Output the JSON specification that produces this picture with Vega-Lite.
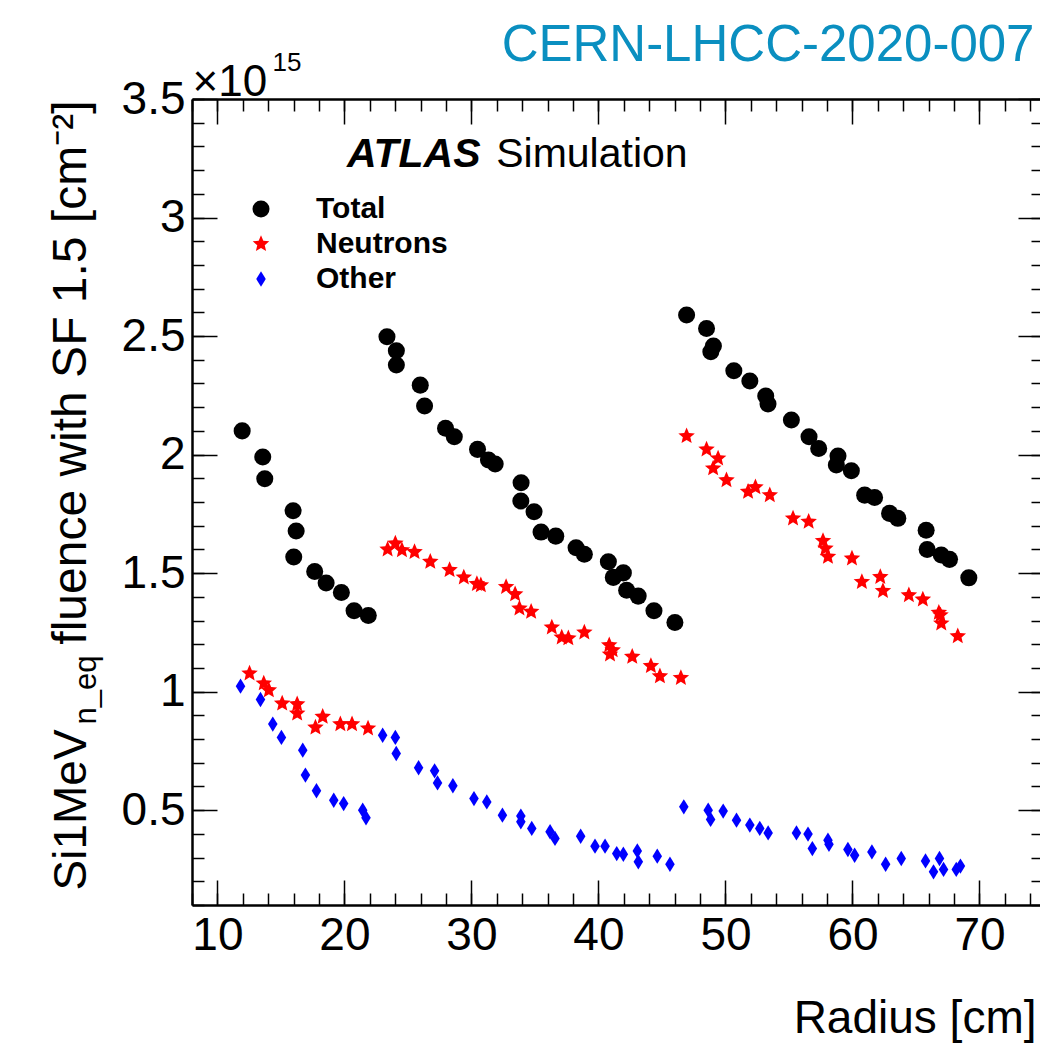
{
  "$schema": "https://vega.github.io/schema/vega-lite/v6.json",
  "width": 851,
  "height": 806,
  "autosize": {"type": "none"},
  "padding": {"left": 192, "top": 99, "right": 0, "bottom": 139},
  "background": "white",
  "config": {
    "view": {"stroke": null},
    "font": "Liberation Sans",
    "axis": {
      "grid": false,
      "domainColor": "black",
      "domainWidth": 2.5,
      "tickColor": "black",
      "tickWidth": 1.5,
      "labelFont": "Liberation Sans",
      "labelColor": "black",
      "titleFont": "Liberation Sans",
      "titleColor": "black",
      "titleFontWeight": "normal",
      "labelFlush": false,
      "labelOverlap": false
    }
  },
  "data": {
    "values": [
      {"radius": 11.95, "fluence": 2.100e15, "type": "Total"},
      {"radius": 13.57, "fluence": 1.990e15, "type": "Total"},
      {"radius": 13.73, "fluence": 1.898e15, "type": "Total"},
      {"radius": 15.96, "fluence": 1.763e15, "type": "Total"},
      {"radius": 16.20, "fluence": 1.678e15, "type": "Total"},
      {"radius": 16.01, "fluence": 1.568e15, "type": "Total"},
      {"radius": 17.66, "fluence": 1.507e15, "type": "Total"},
      {"radius": 18.56, "fluence": 1.458e15, "type": "Total"},
      {"radius": 19.76, "fluence": 1.418e15, "type": "Total"},
      {"radius": 20.76, "fluence": 1.341e15, "type": "Total"},
      {"radius": 21.88, "fluence": 1.321e15, "type": "Total"},
      {"radius": 23.35, "fluence": 2.497e15, "type": "Total"},
      {"radius": 24.09, "fluence": 2.438e15, "type": "Total"},
      {"radius": 24.09, "fluence": 2.378e15, "type": "Total"},
      {"radius": 25.97, "fluence": 2.293e15, "type": "Total"},
      {"radius": 26.31, "fluence": 2.205e15, "type": "Total"},
      {"radius": 27.96, "fluence": 2.111e15, "type": "Total"},
      {"radius": 28.65, "fluence": 2.075e15, "type": "Total"},
      {"radius": 30.48, "fluence": 2.022e15, "type": "Total"},
      {"radius": 31.34, "fluence": 1.977e15, "type": "Total"},
      {"radius": 31.87, "fluence": 1.960e15, "type": "Total"},
      {"radius": 33.91, "fluence": 1.881e15, "type": "Total"},
      {"radius": 33.89, "fluence": 1.804e15, "type": "Total"},
      {"radius": 34.93, "fluence": 1.759e15, "type": "Total"},
      {"radius": 35.48, "fluence": 1.673e15, "type": "Total"},
      {"radius": 36.64, "fluence": 1.656e15, "type": "Total"},
      {"radius": 38.24, "fluence": 1.607e15, "type": "Total"},
      {"radius": 38.89, "fluence": 1.580e15, "type": "Total"},
      {"radius": 40.78, "fluence": 1.548e15, "type": "Total"},
      {"radius": 41.96, "fluence": 1.501e15, "type": "Total"},
      {"radius": 41.17, "fluence": 1.482e15, "type": "Total"},
      {"radius": 42.22, "fluence": 1.428e15, "type": "Total"},
      {"radius": 43.13, "fluence": 1.403e15, "type": "Total"},
      {"radius": 44.37, "fluence": 1.341e15, "type": "Total"},
      {"radius": 46.02, "fluence": 1.292e15, "type": "Total"},
      {"radius": 46.94, "fluence": 2.589e15, "type": "Total"},
      {"radius": 48.51, "fluence": 2.532e15, "type": "Total"},
      {"radius": 49.05, "fluence": 2.458e15, "type": "Total"},
      {"radius": 48.85, "fluence": 2.434e15, "type": "Total"},
      {"radius": 50.66, "fluence": 2.354e15, "type": "Total"},
      {"radius": 51.92, "fluence": 2.310e15, "type": "Total"},
      {"radius": 53.17, "fluence": 2.247e15, "type": "Total"},
      {"radius": 53.35, "fluence": 2.213e15, "type": "Total"},
      {"radius": 55.19, "fluence": 2.146e15, "type": "Total"},
      {"radius": 56.58, "fluence": 2.075e15, "type": "Total"},
      {"radius": 57.34, "fluence": 2.026e15, "type": "Total"},
      {"radius": 58.86, "fluence": 1.994e15, "type": "Total"},
      {"radius": 58.73, "fluence": 1.956e15, "type": "Total"},
      {"radius": 59.91, "fluence": 1.932e15, "type": "Total"},
      {"radius": 60.96, "fluence": 1.829e15, "type": "Total"},
      {"radius": 61.74, "fluence": 1.819e15, "type": "Total"},
      {"radius": 62.92, "fluence": 1.752e15, "type": "Total"},
      {"radius": 63.57, "fluence": 1.731e15, "type": "Total"},
      {"radius": 65.80, "fluence": 1.681e15, "type": "Total"},
      {"radius": 65.88, "fluence": 1.600e15, "type": "Total"},
      {"radius": 66.99, "fluence": 1.576e15, "type": "Total"},
      {"radius": 67.64, "fluence": 1.558e15, "type": "Total"},
      {"radius": 69.16, "fluence": 1.480e15, "type": "Total"},
      {"radius": 12.53, "fluence": 1.077e15, "type": "Neutrons"},
      {"radius": 13.65, "fluence": 1.035e15, "type": "Neutrons"},
      {"radius": 14.05, "fluence": 1.006e15, "type": "Neutrons"},
      {"radius": 15.10, "fluence": 0.950e15, "type": "Neutrons"},
      {"radius": 16.28, "fluence": 0.947e15, "type": "Neutrons"},
      {"radius": 16.28, "fluence": 0.908e15, "type": "Neutrons"},
      {"radius": 17.72, "fluence": 0.849e15, "type": "Neutrons"},
      {"radius": 18.29, "fluence": 0.894e15, "type": "Neutrons"},
      {"radius": 19.68, "fluence": 0.863e15, "type": "Neutrons"},
      {"radius": 20.60, "fluence": 0.863e15, "type": "Neutrons"},
      {"radius": 21.86, "fluence": 0.845e15, "type": "Neutrons"},
      {"radius": 23.40, "fluence": 1.600e15, "type": "Neutrons"},
      {"radius": 24.01, "fluence": 1.625e15, "type": "Neutrons"},
      {"radius": 24.53, "fluence": 1.597e15, "type": "Neutrons"},
      {"radius": 25.52, "fluence": 1.589e15, "type": "Neutrons"},
      {"radius": 26.76, "fluence": 1.548e15, "type": "Neutrons"},
      {"radius": 28.28, "fluence": 1.513e15, "type": "Neutrons"},
      {"radius": 29.40, "fluence": 1.482e15, "type": "Neutrons"},
      {"radius": 30.43, "fluence": 1.454e15, "type": "Neutrons"},
      {"radius": 30.74, "fluence": 1.449e15, "type": "Neutrons"},
      {"radius": 32.73, "fluence": 1.442e15, "type": "Neutrons"},
      {"radius": 33.44, "fluence": 1.411e15, "type": "Neutrons"},
      {"radius": 33.78, "fluence": 1.351e15, "type": "Neutrons"},
      {"radius": 34.70, "fluence": 1.337e15, "type": "Neutrons"},
      {"radius": 36.33, "fluence": 1.271e15, "type": "Neutrons"},
      {"radius": 37.11, "fluence": 1.229e15, "type": "Neutrons"},
      {"radius": 37.63, "fluence": 1.225e15, "type": "Neutrons"},
      {"radius": 38.89, "fluence": 1.250e15, "type": "Neutrons"},
      {"radius": 40.85, "fluence": 1.196e15, "type": "Neutrons"},
      {"radius": 41.12, "fluence": 1.175e15, "type": "Neutrons"},
      {"radius": 40.91, "fluence": 1.157e15, "type": "Neutrons"},
      {"radius": 42.66, "fluence": 1.147e15, "type": "Neutrons"},
      {"radius": 44.13, "fluence": 1.108e15, "type": "Neutrons"},
      {"radius": 44.84, "fluence": 1.065e15, "type": "Neutrons"},
      {"radius": 46.49, "fluence": 1.058e15, "type": "Neutrons"},
      {"radius": 46.94, "fluence": 2.078e15, "type": "Neutrons"},
      {"radius": 48.51, "fluence": 2.022e15, "type": "Neutrons"},
      {"radius": 49.42, "fluence": 1.984e15, "type": "Neutrons"},
      {"radius": 49.03, "fluence": 1.942e15, "type": "Neutrons"},
      {"radius": 50.08, "fluence": 1.892e15, "type": "Neutrons"},
      {"radius": 51.78, "fluence": 1.843e15, "type": "Neutrons"},
      {"radius": 52.36, "fluence": 1.862e15, "type": "Neutrons"},
      {"radius": 53.49, "fluence": 1.829e15, "type": "Neutrons"},
      {"radius": 55.32, "fluence": 1.731e15, "type": "Neutrons"},
      {"radius": 56.55, "fluence": 1.717e15, "type": "Neutrons"},
      {"radius": 57.68, "fluence": 1.636e15, "type": "Neutrons"},
      {"radius": 57.87, "fluence": 1.604e15, "type": "Neutrons"},
      {"radius": 58.07, "fluence": 1.569e15, "type": "Neutrons"},
      {"radius": 59.96, "fluence": 1.562e15, "type": "Neutrons"},
      {"radius": 60.74, "fluence": 1.463e15, "type": "Neutrons"},
      {"radius": 62.19, "fluence": 1.484e15, "type": "Neutrons"},
      {"radius": 62.40, "fluence": 1.425e15, "type": "Neutrons"},
      {"radius": 64.44, "fluence": 1.407e15, "type": "Neutrons"},
      {"radius": 65.54, "fluence": 1.389e15, "type": "Neutrons"},
      {"radius": 66.80, "fluence": 1.333e15, "type": "Neutrons"},
      {"radius": 66.93, "fluence": 1.323e15, "type": "Neutrons"},
      {"radius": 66.99, "fluence": 1.288e15, "type": "Neutrons"},
      {"radius": 68.29, "fluence": 1.234e15, "type": "Neutrons"},
      {"radius": 11.82, "fluence": 1.023e15, "type": "Other"},
      {"radius": 13.39, "fluence": 0.967e15, "type": "Other"},
      {"radius": 14.36, "fluence": 0.863e15, "type": "Other"},
      {"radius": 15.04, "fluence": 0.807e15, "type": "Other"},
      {"radius": 16.72, "fluence": 0.753e15, "type": "Other"},
      {"radius": 16.93, "fluence": 0.648e15, "type": "Other"},
      {"radius": 17.80, "fluence": 0.582e15, "type": "Other"},
      {"radius": 19.16, "fluence": 0.542e15, "type": "Other"},
      {"radius": 19.94, "fluence": 0.528e15, "type": "Other"},
      {"radius": 21.44, "fluence": 0.500e15, "type": "Other"},
      {"radius": 21.70, "fluence": 0.468e15, "type": "Other"},
      {"radius": 23.01, "fluence": 0.816e15, "type": "Other"},
      {"radius": 24.01, "fluence": 0.807e15, "type": "Other"},
      {"radius": 24.08, "fluence": 0.739e15, "type": "Other"},
      {"radius": 25.84, "fluence": 0.679e15, "type": "Other"},
      {"radius": 27.10, "fluence": 0.666e15, "type": "Other"},
      {"radius": 27.33, "fluence": 0.615e15, "type": "Other"},
      {"radius": 28.54, "fluence": 0.603e15, "type": "Other"},
      {"radius": 30.20, "fluence": 0.549e15, "type": "Other"},
      {"radius": 31.21, "fluence": 0.535e15, "type": "Other"},
      {"radius": 32.44, "fluence": 0.479e15, "type": "Other"},
      {"radius": 33.89, "fluence": 0.475e15, "type": "Other"},
      {"radius": 33.89, "fluence": 0.451e15, "type": "Other"},
      {"radius": 34.75, "fluence": 0.423e15, "type": "Other"},
      {"radius": 36.19, "fluence": 0.409e15, "type": "Other"},
      {"radius": 36.58, "fluence": 0.381e15, "type": "Other"},
      {"radius": 38.60, "fluence": 0.390e15, "type": "Other"},
      {"radius": 39.73, "fluence": 0.348e15, "type": "Other"},
      {"radius": 40.52, "fluence": 0.348e15, "type": "Other"},
      {"radius": 41.44, "fluence": 0.317e15, "type": "Other"},
      {"radius": 41.96, "fluence": 0.314e15, "type": "Other"},
      {"radius": 43.06, "fluence": 0.328e15, "type": "Other"},
      {"radius": 43.14, "fluence": 0.282e15, "type": "Other"},
      {"radius": 44.63, "fluence": 0.306e15, "type": "Other"},
      {"radius": 45.63, "fluence": 0.272e15, "type": "Other"},
      {"radius": 46.72, "fluence": 0.514e15, "type": "Other"},
      {"radius": 48.64, "fluence": 0.500e15, "type": "Other"},
      {"radius": 48.83, "fluence": 0.461e15, "type": "Other"},
      {"radius": 49.82, "fluence": 0.496e15, "type": "Other"},
      {"radius": 50.87, "fluence": 0.458e15, "type": "Other"},
      {"radius": 51.92, "fluence": 0.437e15, "type": "Other"},
      {"radius": 52.70, "fluence": 0.423e15, "type": "Other"},
      {"radius": 53.36, "fluence": 0.404e15, "type": "Other"},
      {"radius": 55.59, "fluence": 0.404e15, "type": "Other"},
      {"radius": 56.50, "fluence": 0.399e15, "type": "Other"},
      {"radius": 56.84, "fluence": 0.338e15, "type": "Other"},
      {"radius": 58.07, "fluence": 0.373e15, "type": "Other"},
      {"radius": 58.15, "fluence": 0.356e15, "type": "Other"},
      {"radius": 59.64, "fluence": 0.334e15, "type": "Other"},
      {"radius": 60.17, "fluence": 0.310e15, "type": "Other"},
      {"radius": 61.53, "fluence": 0.324e15, "type": "Other"},
      {"radius": 62.61, "fluence": 0.272e15, "type": "Other"},
      {"radius": 63.84, "fluence": 0.296e15, "type": "Other"},
      {"radius": 65.75, "fluence": 0.286e15, "type": "Other"},
      {"radius": 66.38, "fluence": 0.240e15, "type": "Other"},
      {"radius": 66.85, "fluence": 0.296e15, "type": "Other"},
      {"radius": 67.17, "fluence": 0.250e15, "type": "Other"},
      {"radius": 68.17, "fluence": 0.250e15, "type": "Other"},
      {"radius": 68.50, "fluence": 0.264e15, "type": "Other"}
    ]
  },
  "layer": [
    {
      "mark": {"type": "point", "filled": true, "opacity": 1, "size": 290, "strokeWidth": 0},
      "encoding": {
        "x": {
          "field": "radius", "type": "quantitative",
          "scale": {"domain": [8, 75], "nice": false, "zero": false},
          "axis": {
            "orient": "bottom", "values": [10, 20, 30, 40, 50, 60, 70],
            "tickSize": -25, "labelPadding": 33.6, "labelFontSize": 46, "domain": true,
            "title": "Radius [cm]", "titleFontSize": 46, "titleAngle": 0,
            "titleAlign": "right", "titleBaseline": "alphabetic", "titleX": 844, "titleY": 127
          }
        },
        "y": {
          "field": "fluence", "type": "quantitative",
          "scale": {"domain": [1e14, 3.5e15], "nice": false, "zero": false},
          "axis": {
            "orient": "left", "values": [5e14, 1e15, 1.5e15, 2e15, 2.5e15, 3e15, 3.5e15],
            "tickSize": -25, "labelPadding": 32, "labelFontSize": 46, "domain": true,
            "labelExpr": "'' + (datum.value / 1e15)",
            "title": "Si1MeV", "titleFontSize": 46, "titleAngle": 270,
            "titleAlign": "left", "titleBaseline": "alphabetic", "titleX": -107, "titleY": 791
          }
        },
        "color": {
          "field": "type", "type": "nominal",
          "scale": {"domain": ["Total", "Neutrons", "Other"], "range": ["#000000", "#ff0000", "#0000ff"]},
          "legend": {
            "title": null, "orient": "none", "legendX": 54, "legendY": 95, "padding": 0,
            "labelFont": "Liberation Sans", "labelFontSize": 30, "labelFontWeight": "bold", "labelColor": "black",
            "symbolSize": 290, "symbolStrokeWidth": 0, "labelOffset": 40, "rowPadding": 5
          }
        },
        "shape": {
          "field": "type", "type": "nominal",
          "scale": {
            "domain": ["Total", "Neutrons", "Other"],
            "range": [
              "circle",
              "M0,-1.02L0.272,-0.374L0.970,-0.315L0.439,0.143L0.600,0.825L0,0.462L-0.600,0.825L-0.439,0.143L-0.970,-0.315L-0.272,-0.374Z",
              "M0,-0.9L0.56,0L0,0.9L-0.56,0Z"
            ]
          },
          "legend": {
            "title": null, "orient": "none", "legendX": 54, "legendY": 95, "padding": 0,
            "labelFont": "Liberation Sans", "labelFontSize": 30, "labelFontWeight": "bold", "labelColor": "black",
            "symbolSize": 290, "symbolStrokeWidth": 0, "labelOffset": 40, "rowPadding": 5
          }
        }
      }
    },
    {
      "mark": {"type": "point", "opacity": 0},
      "encoding": {
        "x": {
          "field": "radius", "type": "quantitative",
          "scale": {"domain": [8, 75], "nice": false, "zero": false},
          "axis": {
            "orient": "bottom",
            "values": [8, 10, 12, 14, 16, 18, 20, 22, 24, 26, 28, 30, 32, 34, 36, 38, 40, 42, 44, 46, 48, 50, 52, 54, 56, 58, 60, 62, 64, 66, 68, 70, 72, 74],
            "tickSize": -12, "labels": false, "domain": false, "title": null
          }
        },
        "y": {
          "field": "fluence", "type": "quantitative",
          "scale": {"domain": [1e14, 3.5e15], "nice": false, "zero": false},
          "axis": {
            "orient": "left",
            "values": [1e14, 2e14, 3e14, 4e14, 5e14, 6e14, 7e14, 8e14, 9e14, 10e14, 11e14, 12e14, 13e14, 14e14, 15e14, 16e14, 17e14, 18e14, 19e14, 20e14, 21e14, 22e14, 23e14, 24e14, 25e14, 26e14, 27e14, 28e14, 29e14, 30e14, 31e14, 32e14, 33e14, 34e14, 35e14],
            "tickSize": -12, "labels": false, "domain": false,
            "title": "n_eq", "titleFontSize": 31, "titleAngle": 270,
            "titleAlign": "left", "titleBaseline": "alphabetic", "titleX": -97, "titleY": 625
          }
        }
      }
    },
    {
      "mark": {"type": "point", "opacity": 0},
      "encoding": {
        "x": {
          "field": "radius", "type": "quantitative",
          "scale": {"domain": [8, 75], "nice": false, "zero": false},
          "axis": {
            "orient": "top", "values": [10, 20, 30, 40, 50, 60, 70],
            "tickSize": -25, "labels": false, "domain": true,
            "title": "×10", "titleFontSize": 44, "titleAngle": 0,
            "titleAlign": "left", "titleBaseline": "alphabetic", "titleX": 0, "titleY": -4
          }
        },
        "y": {
          "field": "fluence", "type": "quantitative",
          "scale": {"domain": [1e14, 3.5e15], "nice": false, "zero": false},
          "axis": {
            "orient": "right", "values": [5e14, 1e15, 1.5e15, 2e15, 2.5e15, 3e15, 3.5e15],
            "tickSize": -25, "labels": false, "domain": true,
            "title": "fluence with SF 1.5 [cm⁻²]", "titleFontSize": 48, "titleAngle": 270,
            "titleAlign": "right", "titleBaseline": "alphabetic", "titleX": -958, "titleY": 1
          }
        }
      }
    },
    {
      "mark": {"type": "point", "opacity": 0},
      "encoding": {
        "x": {
          "field": "radius", "type": "quantitative",
          "scale": {"domain": [8, 75], "nice": false, "zero": false},
          "axis": {
            "orient": "top",
            "values": [8, 10, 12, 14, 16, 18, 20, 22, 24, 26, 28, 30, 32, 34, 36, 38, 40, 42, 44, 46, 48, 50, 52, 54, 56, 58, 60, 62, 64, 66, 68, 70, 72, 74],
            "tickSize": -12, "labels": false, "domain": false,
            "title": "15", "titleFontSize": 26, "titleAngle": 0,
            "titleAlign": "left", "titleBaseline": "alphabetic", "titleX": 80, "titleY": -29
          }
        },
        "y": {
          "field": "fluence", "type": "quantitative",
          "scale": {"domain": [1e14, 3.5e15], "nice": false, "zero": false},
          "axis": {
            "orient": "right",
            "values": [1e14, 2e14, 3e14, 4e14, 5e14, 6e14, 7e14, 8e14, 9e14, 10e14, 11e14, 12e14, 13e14, 14e14, 15e14, 16e14, 17e14, 18e14, 19e14, 20e14, 21e14, 22e14, 23e14, 24e14, 25e14, 26e14, 27e14, 28e14, 29e14, 30e14, 31e14, 32e14, 33e14, 34e14, 35e14],
            "tickSize": -12, "labels": false, "domain": false,
            "title": "CERN-LHCC-2020-007", "titleFontSize": 51, "titleAngle": 0, "titleColor": "#0a8fc0",
            "titleAlign": "right", "titleBaseline": "alphabetic", "titleX": -9, "titleY": -39
          }
        }
      }
    },
    {
      "data": {"values": [{}]},
      "mark": {"type": "text", "text": "ATLAS", "font": "Liberation Sans", "fontSize": 41, "fontWeight": "bold", "fontStyle": "italic", "align": "left", "baseline": "alphabetic", "color": "black"},
      "encoding": {
        "x": {"datum": 20.2, "type": "quantitative", "axis": null, "scale": {"domain": [8, 75], "nice": false, "zero": false}},
        "y": {"datum": 3.214e15, "type": "quantitative", "axis": null, "scale": {"domain": [1e14, 3.5e15], "nice": false, "zero": false}}
      }
    },
    {
      "data": {"values": [{}]},
      "mark": {"type": "text", "text": "Simulation", "font": "Liberation Sans", "fontSize": 41, "align": "left", "baseline": "alphabetic", "color": "black"},
      "encoding": {
        "x": {"datum": 31.95, "type": "quantitative", "axis": null, "scale": {"domain": [8, 75], "nice": false, "zero": false}},
        "y": {"datum": 3.214e15, "type": "quantitative", "axis": null, "scale": {"domain": [1e14, 3.5e15], "nice": false, "zero": false}}
      }
    }
  ],
  "resolve": {"axis": {"x": "independent", "y": "independent"}}
}
